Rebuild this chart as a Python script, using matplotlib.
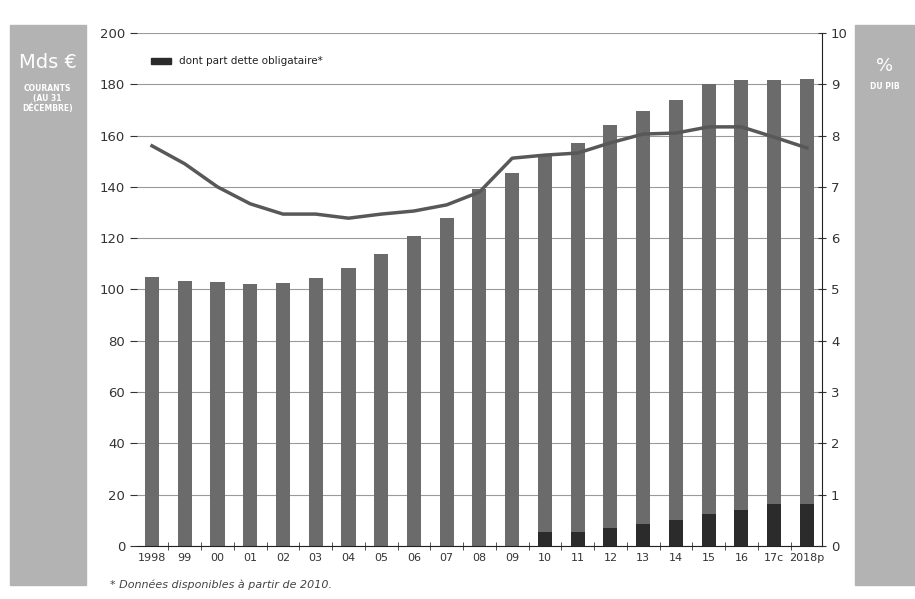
import matplotlib
matplotlib.use('Agg')
import matplotlib.pyplot as plt
from matplotlib.patches import Rectangle
import numpy as np

# data
years = ['1998', '99', '00', '01', '02', '03', '04', '05', '06', '07', '08',
         '09', '10', '11', '12', '13', '14', '15', '16', '17c', '2018p']
total = [105, 103.5, 103, 102, 102.5, 104.5, 108.5, 114, 121, 128, 139,
         145.5, 152.5, 157, 164, 169.5, 174, 180, 181.5, 181.5, 182]
bonds = [0, 0, 0, 0, 0, 0, 0, 0, 0, 0, 0,
         0, 5.5, 5.5, 7, 8.5, 10, 12.4, 14, 16.4, 16.5]
pct_gdp = [7.80, 7.45, 7.0, 6.67, 6.47, 6.47, 6.39, 6.47, 6.53, 6.65, 6.9,
           7.56, 7.62, 7.66, 7.86, 8.03, 8.05, 8.17, 8.17, 7.97, 7.76]

bar_col = '#6b6b6b'
dark_col = '#2b2b2b'
line_col = '#585858'
panel_col = '#b3b3b3'

fig = plt.figure(figsize=(9.15, 5.99), dpi=100)
ax = fig.add_axes([0.1497, 0.0885, 0.7486, 0.8564])

x = np.arange(len(years))
ax.bar(x, total, width=0.43, color=bar_col, zorder=2)
ax.bar(x, bonds, width=0.43, color=dark_col, zorder=3)

ax.set_ylim(0, 200)
ax.set_xlim(-0.46, len(years) - 0.54)
ax.set_yticks(range(0, 201, 20))
ax.grid(axis='y', color='#9a9a9a', linewidth=0.8, zorder=0)
ax.set_xticks(x)
ax.set_xticklabels(years, fontsize=8, color='#333333')
ax.set_xticks(x[:-1] + 0.5, minor=True)
ax.tick_params(axis='x', which='major', length=0, pad=5)
ax.tick_params(axis='x', which='minor', length=6, direction='inout', color='#333333')
ax.tick_params(axis='y', labelsize=9.5, length=5, direction='out', colors='#333333')
for s in ['top', 'left']:
    ax.spines[s].set_visible(False)
ax.spines['right'].set_visible(False)
ax.spines['bottom'].set_color('#222222')

ax2 = ax.twinx()
ax2.plot(x, pct_gdp, color=line_col, linewidth=2.5, zorder=4)
ax2.set_ylim(0, 10)
ax2.set_yticks(range(0, 11))
ax2.tick_params(axis='y', labelsize=9.5, length=6, direction='inout', colors='#333333')
for s in ['top', 'left', 'bottom']:
    ax2.spines[s].set_visible(False)
ax2.spines['right'].set_color('#222222')

# legend
ax.add_patch(Rectangle((0.02, 0.939), 0.03, 0.012, transform=ax.transAxes,
                       color=dark_col, clip_on=False, zorder=5))
ax.text(0.062, 0.945, 'dont part dette obligataire*', transform=ax.transAxes,
        fontsize=7.5, va='center', color='#222222')

# side panels
fig.patches.append(Rectangle((0.011, 0.023), 0.083, 0.935, transform=fig.transFigure,
                             color=panel_col, zorder=0))
fig.patches.append(Rectangle((0.934, 0.023), 0.07, 0.935, transform=fig.transFigure,
                             color=panel_col, zorder=0))
fig.text(0.052, 0.895, 'Mds €', color='white', fontsize=14, ha='center', va='center')
fig.text(0.052, 0.835, 'COURANTS\n(AU 31\nDÉCEMBRE)', color='white', fontsize=5.5,
         ha='center', va='center', fontweight='bold', linespacing=1.1)
fig.text(0.967, 0.89, '%', color='white', fontsize=13, ha='center', va='center')
fig.text(0.967, 0.856, 'DU PIB', color='white', fontsize=5.5, ha='center', va='center',
         fontweight='bold')

fig.text(0.12, 0.015, '* Données disponibles à partir de 2010.', fontsize=8,
         style='italic', color='#444444', va='bottom')

fig.savefig('out.png', dpi=100)
